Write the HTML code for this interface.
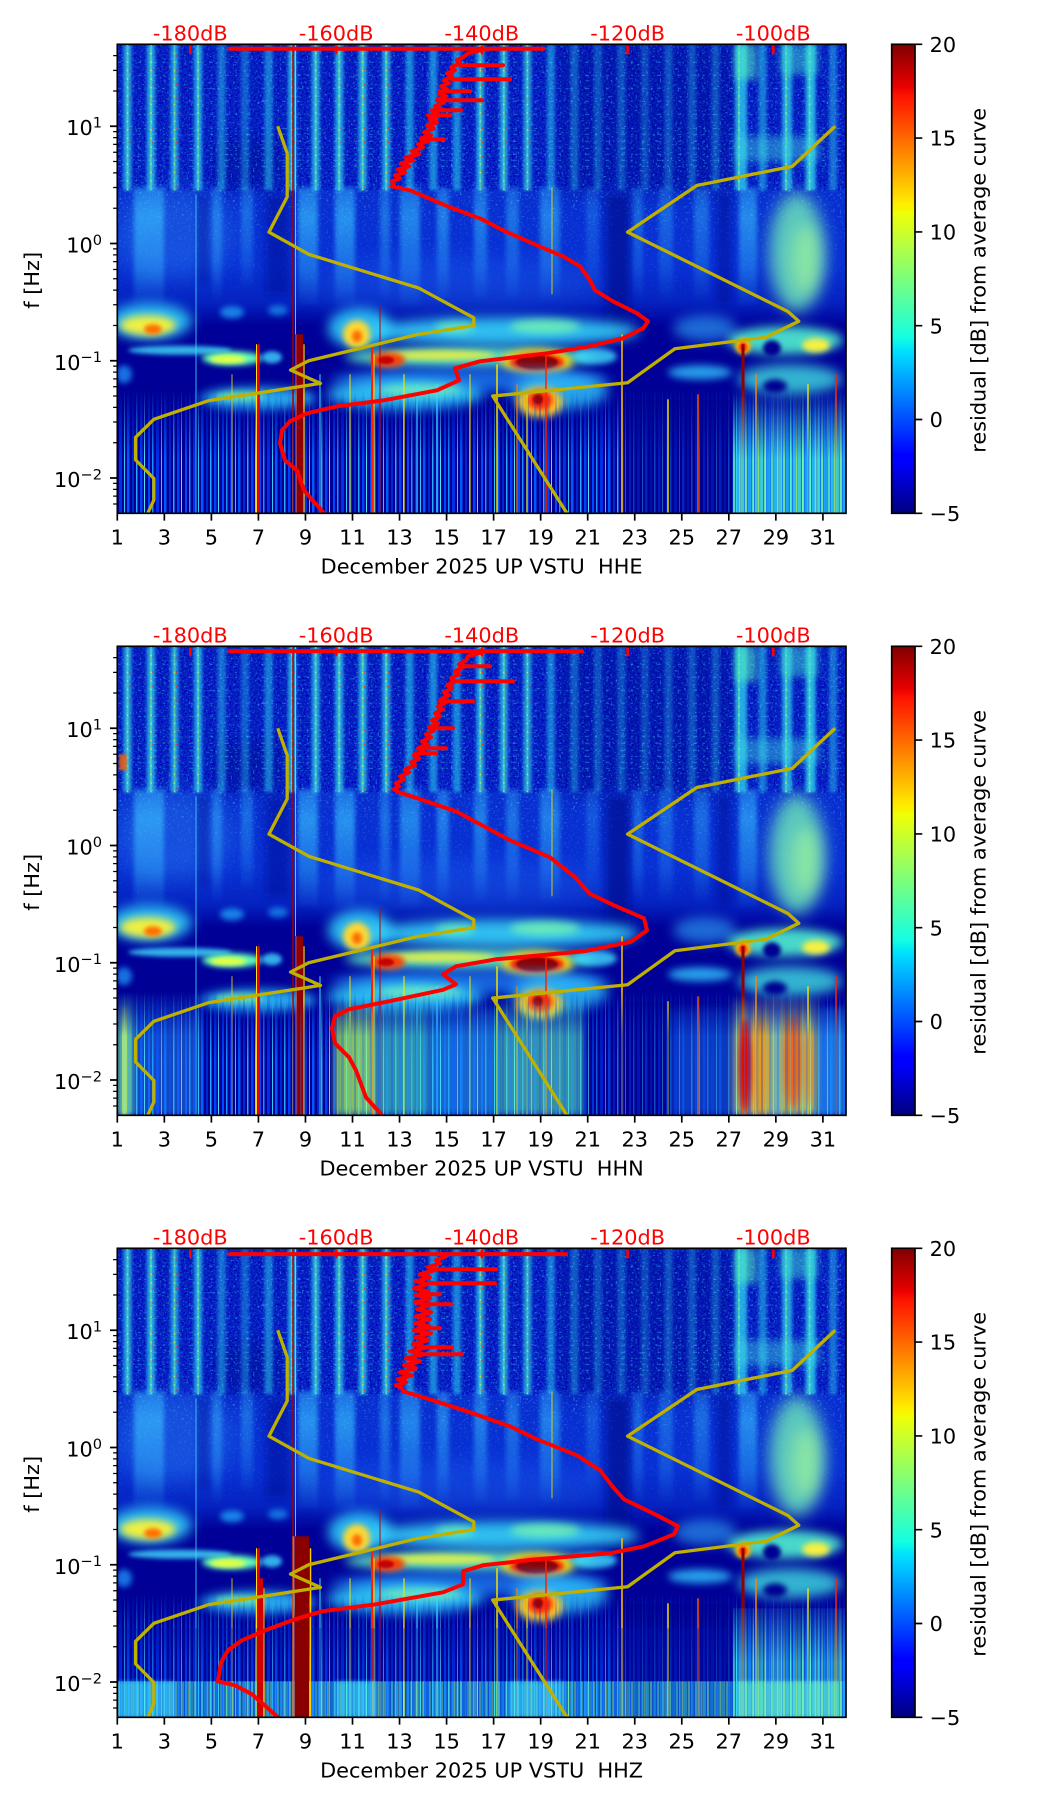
<!DOCTYPE html>
<html><head><meta charset="utf-8">
<style>
html,body{margin:0;padding:0;background:#fff;}
svg{display:block;}
text{font-family:"DejaVu Sans","Liberation Sans",sans-serif;font-size:20.83px;fill:#000;}
.r{fill:#ff0000;}
</style></head><body>
<svg width="1052" height="1806" viewBox="0 0 1052 1806" xmlns="http://www.w3.org/2000/svg">
<defs>
 <clipPath id="ax"><rect x="117.3" y="0" width="728.7" height="469"/></clipPath>
 <linearGradient id="jet" x1="0" y1="1" x2="0" y2="0">
  <stop offset="0" stop-color="#000080"/><stop offset="0.11" stop-color="#0000ff"/><stop offset="0.125" stop-color="#0000ff"/>
  <stop offset="0.34" stop-color="#00dbff"/><stop offset="0.35" stop-color="#00e5f7"/><stop offset="0.375" stop-color="#14ffe2"/>
  <stop offset="0.64" stop-color="#eeff08"/><stop offset="0.65" stop-color="#f7f500"/><stop offset="0.66" stop-color="#ffec00"/>
  <stop offset="0.89" stop-color="#ff1300"/><stop offset="0.91" stop-color="#e80000"/><stop offset="1" stop-color="#800000"/>
 </linearGradient>
 <linearGradient id="gbase" gradientUnits="userSpaceOnUse" x1="0" y1="0" x2="0" y2="469">
  <stop offset="0" stop-color="#0622c0"/><stop offset="0.29" stop-color="#0624c4"/>
  <stop offset="0.32" stop-color="#082ed0"/><stop offset="0.47" stop-color="#0830d4"/>
  <stop offset="0.55" stop-color="#0522c0"/><stop offset="0.60" stop-color="#000098"/><stop offset="1" stop-color="#000090"/>
 </linearGradient>
 <linearGradient id="plume" x1="0" y1="0" x2="0" y2="1">
  <stop offset="0" stop-color="#38c8ff" stop-opacity="0.55"/><stop offset="0.25" stop-color="#38c8ff" stop-opacity="0.85"/><stop offset="0.7" stop-color="#38c8ff" stop-opacity="0.5"/><stop offset="1" stop-color="#38c8ff" stop-opacity="0.05"/>
 </linearGradient>
 <filter id="b1" x="-50%" y="-50%" width="200%" height="200%"><feGaussianBlur stdDeviation="1"/></filter>
 <filter id="b15" x="-50%" y="-50%" width="200%" height="200%"><feGaussianBlur stdDeviation="1.5"/></filter>
 <filter id="b2" x="-50%" y="-50%" width="200%" height="200%"><feGaussianBlur stdDeviation="2"/></filter>
 <filter id="b3" x="-50%" y="-50%" width="200%" height="200%"><feGaussianBlur stdDeviation="3"/></filter>
 <filter id="b4" x="-50%" y="-50%" width="200%" height="200%"><feGaussianBlur stdDeviation="4"/></filter>
 <filter id="b5" x="-50%" y="-50%" width="200%" height="200%"><feGaussianBlur stdDeviation="5"/></filter>
 <filter id="b6" x="-50%" y="-50%" width="200%" height="200%"><feGaussianBlur stdDeviation="6"/></filter>
 <filter id="b8" x="-50%" y="-50%" width="200%" height="200%"><feGaussianBlur stdDeviation="8"/></filter>
 <filter id="b10" x="-50%" y="-50%" width="200%" height="200%"><feGaussianBlur stdDeviation="10"/></filter>
 <filter id="b12" x="-50%" y="-50%" width="200%" height="200%"><feGaussianBlur stdDeviation="12"/></filter>
 <filter id="spk" x="0" y="0" width="1" height="1">
  <feTurbulence type="fractalNoise" baseFrequency="0.45 0.5" numOctaves="2" seed="4"/>
  <feColorMatrix type="matrix" values="0 0 0 0 0.1  0 0 0 0 0.7  0 0 0 0 1  4 0 0 0 -2.35"/>
 </filter>
 <filter id="spk2" x="0" y="0" width="1" height="1">
  <feTurbulence type="fractalNoise" baseFrequency="0.5 0.45" numOctaves="2" seed="11"/>
  <feColorMatrix type="matrix" values="0 0 0 0 0  0 0 0 0 0  0 0 0 0 0.5  0 4 0 0 -1.9"/>
 </filter>
 <linearGradient id="spkG" gradientUnits="userSpaceOnUse" x1="0" y1="0" x2="0" y2="270">
  <stop offset="0" stop-color="#fff"/><stop offset="0.55" stop-color="#fff"/><stop offset="0.75" stop-color="#666"/><stop offset="1" stop-color="#000"/>
 </linearGradient>
 <mask id="spkM" maskUnits="userSpaceOnUse" x="100" y="0" width="760" height="280"><rect x="100" y="0" width="760" height="280" fill="url(#spkG)"/></mask>
 <pattern id="stk" patternUnits="userSpaceOnUse" x="0" y="0" width="37" height="10">
  <rect x="0" y="0" width="2" height="10" fill="#0048ff"/>
  <rect x="4" y="0" width="1.5" height="10" fill="#1890ff"/>
  <rect x="8" y="0" width="3" height="10" fill="#0030e8"/>
  <rect x="13" y="0" width="1" height="10" fill="#30c8ff"/>
  <rect x="16" y="0" width="2.5" height="10" fill="#0058ff"/>
  <rect x="21" y="0" width="2" height="10" fill="#0028d0"/>
  <rect x="25" y="0" width="1.5" height="10" fill="#2aa8ff"/>
  <rect x="29" y="0" width="2.5" height="10" fill="#0040f8"/>
  <rect x="33" y="0" width="1" height="10" fill="#50e0ff"/>
 </pattern>
 <pattern id="stkC" patternUnits="userSpaceOnUse" x="0" y="0" width="19" height="10">
  <rect x="0" y="0" width="19" height="10" fill="#1890ff"/>
  <rect x="0" y="0" width="3" height="10" fill="#40e8e0"/>
  <rect x="4" y="0" width="2" height="10" fill="#80ffa0"/>
  <rect x="7" y="0" width="3" height="10" fill="#20b8ff"/>
  <rect x="11" y="0" width="2" height="10" fill="#60f8c0"/>
  <rect x="14" y="0" width="3" height="10" fill="#30d0ff"/>
  <rect x="17" y="0" width="1.5" height="10" fill="#a0ff70"/>
 </pattern>
 <linearGradient id="fadeG" gradientUnits="userSpaceOnUse" x1="0" y1="345" x2="0" y2="415"><stop offset="0" stop-color="#000"/><stop offset="1" stop-color="#fff"/></linearGradient>
 <mask id="fadeM" maskUnits="userSpaceOnUse" x="100" y="300" width="760" height="180"><rect x="100" y="300" width="760" height="180" fill="url(#fadeG)"/></mask>
 <linearGradient id="fadeG2" gradientUnits="userSpaceOnUse" x1="0" y1="345" x2="0" y2="390"><stop offset="0" stop-color="#000"/><stop offset="1" stop-color="#fff"/></linearGradient>
 <mask id="fadeM2" maskUnits="userSpaceOnUse" x="100" y="300" width="760" height="180"><rect x="100" y="300" width="760" height="180" fill="url(#fadeG2)"/></mask>

 <g id="spec">
  <rect x="117" y="0" width="730" height="469" fill="url(#gbase)"/>
  <rect x="117" y="0" width="730" height="146" filter="url(#spk2)"/>
  <rect x="560" y="0" width="175" height="150" fill="#000c90" opacity="0.35" filter="url(#b8)"/>
  <rect x="215" y="95" width="70" height="50" fill="#000a90" opacity="0.4" filter="url(#b8)"/>
  <!-- day stripes -->
  <g fill="#2cd8f0" filter="url(#b15)">
   <rect x="123.5" y="0" width="8" height="146" opacity="0.7"/>
   <rect x="147" y="0" width="8" height="146" opacity="0.75"/>
   <rect x="170.5" y="0" width="8" height="146" opacity="0.65"/>
   <rect x="194.1" y="0" width="8" height="146" opacity="0.7"/>
   <rect x="217.6" y="0" width="8" height="146" opacity="0.45"/>
   <rect x="241.1" y="0" width="8" height="146" opacity="0.35"/>
   <rect x="264.6" y="0" width="8" height="146" opacity="0.5"/>
   <rect x="288.1" y="0" width="8" height="146" opacity="0.75"/>
   <rect x="311.7" y="0" width="8" height="146" opacity="0.7"/>
   <rect x="335.2" y="0" width="8" height="146" opacity="0.75"/>
   <rect x="358.7" y="0" width="8" height="146" opacity="0.75"/>
   <rect x="382.2" y="0" width="8" height="146" opacity="0.7"/>
   <rect x="405.7" y="0" width="8" height="146" opacity="0.55"/>
   <rect x="429.3" y="0" width="8" height="146" opacity="0.55"/>
   <rect x="452.8" y="0" width="8" height="146" opacity="0.55"/>
   <rect x="476.3" y="0" width="8" height="146" opacity="0.7"/>
   <rect x="499.8" y="0" width="8" height="146" opacity="0.7"/>
   <rect x="523.4" y="0" width="8" height="146" opacity="0.65"/>
   <rect x="546.9" y="0" width="8" height="146" opacity="0.5"/>
   <rect x="570.4" y="0" width="8" height="146" opacity="0.35"/>
   <rect x="593.9" y="0" width="8" height="146" opacity="0.3"/>
   <rect x="617.4" y="0" width="8" height="146" opacity="0.3"/>
   <rect x="641" y="0" width="8" height="146" opacity="0.25"/>
   <rect x="664.5" y="0" width="8" height="146" opacity="0.3"/>
   <rect x="688" y="0" width="8" height="146" opacity="0.3"/>
   <rect x="711.5" y="0" width="8" height="146" opacity="0.3"/>
   <rect x="735" y="0" width="12" height="146" opacity="0.75"/>
   <rect x="758.6" y="0" width="8" height="146" opacity="0.5"/>
   <rect x="782.1" y="0" width="10" height="146" opacity="0.7"/>
   <rect x="805.6" y="0" width="10" height="146" opacity="0.8"/>
   <rect x="829.1" y="0" width="8" height="146" opacity="0.45"/>
  </g>
  <path d="M127.5,0V146M151,0V146M174.5,0V146M198.1,0V146M292.1,0V146M315.7,0V146M339.2,0V146M362.7,0V146M386.2,0V146M480.3,0V146M503.8,0V146M527.4,0V146M739,0V146M786.1,0V146M809.6,0V146" stroke="#80ff90" stroke-width="2" opacity="0.35"/>
  <path d="M127.5,0V146M151,0V146M174.5,0V146M198.1,0V146M292.1,0V146M315.7,0V146M339.2,0V146M362.7,0V146M386.2,0V146M480.3,0V146M503.8,0V146M527.4,0V146M739,0V146M786.1,0V146M809.6,0V146" stroke="#e8f040" stroke-width="1.4" stroke-dasharray="1.5 7" opacity="0.75"/>
  <path d="M129.5,0V146M153,0V146M176.5,0V146M294.1,0V146M341.2,0V146M364.7,0V146M388.2,0V146M482.3,0V146M505.8,0V146M529.4,0V146" stroke="#ff2a00" stroke-width="1.4" stroke-dasharray="1.5 13" stroke-dashoffset="4" opacity="0.8"/>
  <path d="M117,18H846M117,31H846M117,44H846M117,57H846M117,70H846M117,84H846M117,90H846M117,97H846M117,104H846M117,110H846M117,116H846M117,122H846" stroke="#38d8ff" stroke-width="1.2" stroke-dasharray="4 6 2 9 3 12" opacity="0.35"/>
  <!-- plumes (3 Hz .. 0.3 Hz) -->
  <g fill="url(#plume)" filter="url(#b2)">
   <rect x="134" y="143" width="30" height="118" opacity="0.75"/>
   <rect x="212" y="143" width="10" height="112" opacity="0.5"/>
   <rect x="241" y="143" width="12" height="100" opacity="0.45"/>
   <rect x="298" y="143" width="20" height="118" opacity="0.75"/>
   <rect x="335" y="143" width="20" height="118" opacity="0.75"/>
   <rect x="380" y="143" width="10" height="112" opacity="0.5"/>
   <rect x="400" y="143" width="20" height="118" opacity="0.65"/>
   <rect x="437" y="143" width="12" height="112" opacity="0.6"/>
   <rect x="474" y="143" width="13" height="112" opacity="0.6"/>
   <rect x="506" y="143" width="13" height="112" opacity="0.5"/>
   <rect x="540" y="143" width="20" height="112" opacity="0.6"/>
   <rect x="586" y="143" width="13" height="100" opacity="0.3"/>
   <rect x="632" y="143" width="11" height="112" opacity="0.4"/>
   <rect x="659" y="143" width="14" height="112" opacity="0.4"/>
   <rect x="694" y="143" width="15" height="112" opacity="0.45"/>
   <rect x="739" y="143" width="18" height="118" opacity="0.7"/>
  </g>
  <ellipse cx="797" cy="208" rx="28" ry="60" fill="#70ecb8" opacity="0.8" filter="url(#b8)"/>
  <ellipse cx="806" cy="215" rx="14" ry="35" fill="#b0ff90" opacity="0.55" filter="url(#b8)"/>
  <rect x="117" y="0" width="730" height="270" filter="url(#spk)" mask="url(#spkM)" opacity="0.5"/>
  <!-- hazes / dark columns -->
  <ellipse cx="175" cy="190" rx="60" ry="45" fill="#40b0ff" opacity="0.25" filter="url(#b12)"/>
  <ellipse cx="460" cy="240" rx="150" ry="25" fill="#2a80ff" opacity="0.25" filter="url(#b12)"/>
  <rect x="735" y="0" width="22" height="35" fill="#50f0c0" opacity="0.6" filter="url(#b4)"/>
  <rect x="780" y="0" width="38" height="30" fill="#40e0d0" opacity="0.5" filter="url(#b4)"/>
  <rect x="735" y="92" width="85" height="25" fill="#40d8e0" opacity="0.45" filter="url(#b4)"/>
  <rect x="606" y="150" width="24" height="150" fill="#000a90" opacity="0.7" filter="url(#b4)"/>
  <rect x="266" y="150" width="24" height="100" fill="#000c98" opacity="0.55" filter="url(#b4)"/>
  <rect x="197" y="150" width="12" height="90" fill="#000c98" opacity="0.4" filter="url(#b3)"/>
  <rect x="717" y="150" width="14" height="110" fill="#000c98" opacity="0.5" filter="url(#b3)"/>
  <!-- 0.2 Hz band -->
  <ellipse cx="150" cy="277" rx="42" ry="18" fill="#30d8ff" opacity="0.85" filter="url(#b6)"/>
  <ellipse cx="148" cy="281" rx="28" ry="10" fill="#f0f040" filter="url(#b4)"/>
  <ellipse cx="153" cy="285" rx="9" ry="5" fill="#ff7000" filter="url(#b2)"/>
  <ellipse cx="232" cy="268" rx="12" ry="6" fill="#20b0ff" opacity="0.7" filter="url(#b3)"/>
  <ellipse cx="278" cy="266" rx="10" ry="5" fill="#20b0ff" opacity="0.6" filter="url(#b3)"/>
  <ellipse cx="360" cy="284" rx="32" ry="20" fill="#30d8ff" opacity="0.85" filter="url(#b6)"/>
  <ellipse cx="357" cy="290" rx="14" ry="14" fill="#ffd830" filter="url(#b3)"/>
  <ellipse cx="357" cy="292" rx="5" ry="6" fill="#ff6a00" filter="url(#b2)"/>
  <ellipse cx="505" cy="287" rx="135" ry="14" fill="#38e0ff" opacity="0.85" filter="url(#b6)"/>
  <ellipse cx="545" cy="282" rx="35" ry="7" fill="#80ffa8" opacity="0.7" filter="url(#b4)"/>
  <ellipse cx="455" cy="283" rx="20" ry="6" fill="#80ffa8" opacity="0.6" filter="url(#b4)"/>
  <ellipse cx="705" cy="284" rx="32" ry="13" fill="#30b0ff" opacity="0.6" filter="url(#b6)"/>
  <ellipse cx="785" cy="296" rx="58" ry="14" fill="#50f0d0" opacity="0.9" filter="url(#b5)"/>
  <ellipse cx="816" cy="301" rx="14" ry="7" fill="#f8f040" filter="url(#b3)"/>
  <ellipse cx="772" cy="304" rx="9" ry="8" fill="#000090" filter="url(#b2)"/>
  <ellipse cx="743" cy="302" rx="8" ry="8" fill="#ffb000" filter="url(#b2)"/>
  <ellipse cx="743" cy="303" rx="4" ry="5" fill="#ff3000" filter="url(#b1)"/>
  <!-- 0.1 Hz band -->
  <ellipse cx="180" cy="306" rx="52" ry="4.5" fill="#40e0ff" opacity="0.8" filter="url(#b2)"/>
  <ellipse cx="232" cy="314" rx="30" ry="7" fill="#60ffb8" filter="url(#b3)"/>
  <ellipse cx="228" cy="315" rx="18" ry="4" fill="#e8ff40" filter="url(#b2)"/>
  <ellipse cx="272" cy="313" rx="10" ry="6" fill="#40d8ff" opacity="0.8" filter="url(#b2)"/>
  <ellipse cx="470" cy="313" rx="125" ry="10" fill="#60f8c0" opacity="0.9" filter="url(#b5)"/>
  <ellipse cx="440" cy="311" rx="55" ry="5" fill="#f0f040" opacity="0.85" filter="url(#b3)"/>
  <ellipse cx="388" cy="316" rx="17" ry="8" fill="#ff4000" filter="url(#b3)"/>
  <ellipse cx="386" cy="316" rx="8" ry="4" fill="#c80000" filter="url(#b1)"/>
  <ellipse cx="537" cy="318" rx="36" ry="13" fill="#ffd000" filter="url(#b4)"/>
  <ellipse cx="537" cy="318" rx="27" ry="9" fill="#ff2000" filter="url(#b2)"/>
  <ellipse cx="537" cy="318" rx="21" ry="7" fill="#8c0000" filter="url(#b1)"/>
  <ellipse cx="595" cy="312" rx="22" ry="8" fill="#40e0ff" opacity="0.8" filter="url(#b3)"/>
  <!-- 0.07 Hz -->
  <ellipse cx="124" cy="330" rx="8" ry="9" fill="#20a0ff" opacity="0.7" filter="url(#b3)"/>
  <ellipse cx="470" cy="336" rx="140" ry="12" fill="#2090ff" opacity="0.7" filter="url(#b6)"/>
  <ellipse cx="700" cy="328" rx="32" ry="7" fill="#30c8ff" opacity="0.8" filter="url(#b4)"/>
  <ellipse cx="790" cy="335" rx="52" ry="15" fill="#40e0e0" opacity="0.8" filter="url(#b6)"/>
  <ellipse cx="775" cy="342" rx="12" ry="7" fill="#000090" filter="url(#b3)"/>
  <!-- 0.05 Hz -->
  <ellipse cx="258" cy="354" rx="58" ry="11" fill="#30d0ff" opacity="0.8" filter="url(#b5)"/>
  <ellipse cx="240" cy="352" rx="25" ry="5" fill="#90ff80" opacity="0.6" filter="url(#b3)"/>
  <ellipse cx="405" cy="350" rx="78" ry="15" fill="#30d8ff" opacity="0.85" filter="url(#b6)"/>
  <ellipse cx="420" cy="346" rx="42" ry="6" fill="#90ffa0" opacity="0.6" filter="url(#b4)"/>
  <ellipse cx="560" cy="347" rx="48" ry="18" fill="#30d0ff" opacity="0.75" filter="url(#b6)"/>
  <ellipse cx="540" cy="358" rx="23" ry="15" fill="#ffd020" filter="url(#b4)"/>
  <ellipse cx="540" cy="356" rx="13" ry="10" fill="#ff2800" filter="url(#b3)"/>
  <ellipse cx="538" cy="355" rx="5" ry="5" fill="#a00000" filter="url(#b1)"/>
  <!-- lower streaks -->
  <rect x="117" y="340" width="730" height="129" fill="url(#stk)" mask="url(#fadeM)"/>
  <rect x="625" y="355" width="108" height="114" fill="#000090" opacity="0.6"/>
  <!-- transients -->
  <line x1="196" y1="150" x2="196" y2="469" stroke="#40e0ff" stroke-width="1" opacity="0.8"/>
  <line x1="232" y1="330" x2="232" y2="469" stroke="#f0e000" stroke-width="1" opacity="0.8"/>
  <line x1="256.5" y1="300" x2="256.5" y2="469" stroke="#ffe000" stroke-width="1"/>
  <line x1="258.5" y1="300" x2="258.5" y2="469" stroke="#e00000" stroke-width="2.5"/>
  <line x1="293" y1="0" x2="293" y2="469" stroke="#a00000" stroke-width="1.5"/>
  <line x1="295.5" y1="0" x2="295.5" y2="290" stroke="#f0e000" stroke-width="1" opacity="0.8"/>
  <line x1="296" y1="290" x2="296" y2="469" stroke="#ff4000" stroke-width="1.2"/>
  <rect x="297" y="290" width="6" height="179" fill="#900000"/>
  <line x1="304" y1="300" x2="304" y2="469" stroke="#ffd000" stroke-width="1.2"/>
  <line x1="320" y1="330" x2="320" y2="469" stroke="#40e0ff" stroke-width="1"/>
  <line x1="350" y1="330" x2="350" y2="469" stroke="#f0e000" stroke-width="1"/>
  <line x1="372" y1="300" x2="372" y2="469" stroke="#ff2000" stroke-width="2"/>
  <line x1="374" y1="310" x2="374" y2="469" stroke="#ffe000" stroke-width="1"/>
  <line x1="380" y1="262" x2="380" y2="469" stroke="#c00000" stroke-width="1"/>
  <line x1="404" y1="330" x2="404" y2="469" stroke="#f0e000" stroke-width="1.2"/>
  <line x1="417" y1="340" x2="417" y2="469" stroke="#40e0ff" stroke-width="1"/>
  <line x1="437" y1="340" x2="437" y2="469" stroke="#40e0ff" stroke-width="1.2"/>
  <line x1="470" y1="330" x2="470" y2="469" stroke="#f0e000" stroke-width="1"/>
  <line x1="497" y1="320" x2="497" y2="469" stroke="#f0e000" stroke-width="1.5"/>
  <line x1="517" y1="340" x2="517" y2="469" stroke="#ff8000" stroke-width="1.2"/>
  <line x1="527" y1="350" x2="527" y2="469" stroke="#f0e000" stroke-width="1.2"/>
  <line x1="546" y1="310" x2="546" y2="469" stroke="#ff2000" stroke-width="1.5"/>
  <line x1="552" y1="143" x2="552" y2="250" stroke="#f0e000" stroke-width="1.2" opacity="0.7"/>
  <line x1="622" y1="290" x2="622" y2="469" stroke="#ffc000" stroke-width="1.5"/>
  <line x1="668" y1="355" x2="668" y2="469" stroke="#f0e000" stroke-width="1.5"/>
  <line x1="698" y1="350" x2="698" y2="469" stroke="#ff5000" stroke-width="1.5"/>
  <line x1="743" y1="300" x2="743" y2="469" stroke="#900000" stroke-width="3"/>
  <line x1="756" y1="330" x2="756" y2="469" stroke="#ff8000" stroke-width="1.5"/>
  <line x1="808" y1="340" x2="808" y2="469" stroke="#f0e000" stroke-width="1.5"/>
  <line x1="836" y1="330" x2="836" y2="469" stroke="#ff2000" stroke-width="1.5"/>
 </g>

 <g id="nm" fill="none" stroke="#c0b000" stroke-width="3.3" stroke-linejoin="round">
  <path d="M277.75,81.96L287.2,108.98L287.2,152.55L269,187.85L309.1,210.16L418.8,243.78L473.8,273.49L473.8,281.16L416.2,290.45L308.7,316.46L290.5,325.74L320.5,339.1L208.5,356.37L153.9,375.05L135.6,393.05L135.6,415.55L153.9,434.21L153.9,455.69L147.7,469"/>
  <path d="M835.2,81.96L792.2,122.1L696.8,141.18L627.55,187.85L787.9,267.19L798.8,276.92L766,292.93L674.9,304.45L627.55,338.44L492.7,351.75L567,469"/>
 </g>

 <g id="axdeco">
  <path d="M190.3,1.5V10M336.1,1.5V10M481.8,1.5V10M627.6,1.5V10M773.3,1.5V10" stroke="#ff0000" stroke-width="2.6"/>
  <rect x="117.3" y="0" width="728.7" height="469" fill="none" stroke="#000" stroke-width="1.67"/>
  <path d="M110,81.96H117.3M110,199.21H117.3M110,316.46H117.3M110,433.71H117.3" stroke="#000" stroke-width="1.67"/>
  <path d="M113.1,11.36H117.3M113.1,26.02H117.3M113.1,46.67H117.3M113.1,87.32H117.3M113.1,93.32H117.3M113.1,100.12H117.3M113.1,107.97H117.3M113.1,117.25H117.3M113.1,128.61H117.3M113.1,143.26H117.3M113.1,163.91H117.3M113.1,204.57H117.3M113.1,210.57H117.3M113.1,217.37H117.3M113.1,225.22H117.3M113.1,234.5H117.3M113.1,245.86H117.3M113.1,260.51H117.3M113.1,281.16H117.3M113.1,321.82H117.3M113.1,327.82H117.3M113.1,334.62H117.3M113.1,342.47H117.3M113.1,351.75H117.3M113.1,363.11H117.3M113.1,377.76H117.3M113.1,398.41H117.3M113.1,439.07H117.3M113.1,445.07H117.3M113.1,451.87H117.3M113.1,459.72H117.3" stroke="#000" stroke-width="1.25"/>
  <path d="M117.3,469V476.3M164.34,469V476.3M211.38,469V476.3M258.42,469V476.3M305.46,469V476.3M352.5,469V476.3M399.54,469V476.3M446.58,469V476.3M493.62,469V476.3M540.66,469V476.3M587.7,469V476.3M634.74,469V476.3M681.78,469V476.3M728.82,469V476.3M775.86,469V476.3M822.9,469V476.3" stroke="#000" stroke-width="1.67"/>
  <rect x="891.7" y="0" width="23.3" height="469" fill="url(#jet)" stroke="#000" stroke-width="1.67"/>
  <path d="M915,0H922.3M915,93.8H922.3M915,187.6H922.3M915,281.4H922.3M915,375.2H922.3M915,469H922.3" stroke="#000" stroke-width="1.67"/>
 </g>
</defs>

<!-- ================= PANEL 1 (HHE) ================= -->
<g transform="translate(0,44.3)">
 <g clip-path="url(#ax)">
  <use href="#spec"/>
  <rect x="733" y="345" width="113" height="124" fill="url(#stkC)" mask="url(#fadeM)" opacity="0.85"/>
  <use href="#nm"/>
  <g fill="none" stroke="#ff0000" stroke-width="4" stroke-linejoin="round" stroke-linecap="round">
   <path d="M230,4.5H543"/>
   <path d="M460,21H503M452,35H510M440,47H470M437,56H482M432,66H461M428,71H450M421,95H444"/>
   <path d="M484,5L468,9L463,13L457,16L460,19L451,23L455,26L447,29L452,32L444,36L449,39L441,42L447,45L439,49L446,52L438,55L444,58L435,62L442,65L433,68L440,71L430,75L437,78L427,81L434,84L424,88L431,91L421,94L428,97L418,100L423,103L412,107L419,110L406,113L413,116L401,119L409,122L398,125L405,128L395,131L400,134L392,137L394,140L392,142L410,146L450,163L482,175L503,186L537,201L563,212L580,222L590,236L595,246L613,257L637,269L648,277L643,284L623,294L590,302L547,309L480,317L455,324L459,336L437,346L384,356L337,362L307,369L290,377L282,386L280,399L285,416L297,426L304,446L324,469"/>
  </g>
 </g>
 <use href="#axdeco"/>
 <text class="r" x="190.3" y="-3.6" text-anchor="middle">-180dB</text>
 <text class="r" x="336.1" y="-3.6" text-anchor="middle">-160dB</text>
 <text class="r" x="481.8" y="-3.6" text-anchor="middle">-140dB</text>
 <text class="r" x="627.6" y="-3.6" text-anchor="middle">-120dB</text>
 <text class="r" x="773.3" y="-3.6" text-anchor="middle">-100dB</text>
 <text x="102" y="90.9" text-anchor="end">10<tspan dy="-7.7" font-size="14.6">1</tspan></text>
 <text x="102" y="208.2" text-anchor="end">10<tspan dy="-7.7" font-size="14.6">0</tspan></text>
 <text x="102" y="325.5" text-anchor="end">10<tspan dy="-7.7" font-size="14.6">−1</tspan></text>
 <text x="102" y="442.7" text-anchor="end">10<tspan dy="-7.7" font-size="14.6">−2</tspan></text>
 <g text-anchor="middle">
  <text x="117.3" y="500">1</text><text x="164.34" y="500">3</text><text x="211.38" y="500">5</text><text x="258.42" y="500">7</text>
  <text x="305.46" y="500">9</text><text x="352.5" y="500">11</text><text x="399.54" y="500">13</text><text x="446.58" y="500">15</text>
  <text x="493.62" y="500">17</text><text x="540.66" y="500">19</text><text x="587.7" y="500">21</text><text x="634.74" y="500">23</text>
  <text x="681.78" y="500">25</text><text x="728.82" y="500">27</text><text x="775.86" y="500">29</text><text x="822.9" y="500">31</text>
 </g>
 <text x="481.6" y="529" text-anchor="middle" xml:space="preserve" style="white-space:pre">December 2025 UP VSTU  HHE</text>
 <text transform="translate(39,236) rotate(-90)" text-anchor="middle">f [Hz]</text>
 <text x="929.6" y="7.6">20</text><text x="929.6" y="101.4">15</text><text x="929.6" y="195.2">10</text>
 <text x="929.6" y="289">5</text><text x="929.6" y="382.8">0</text><text x="929.6" y="476.6">−5</text>
 <text transform="translate(985.5,236) rotate(-90)" text-anchor="middle">residual [dB] from average curve</text>
</g>

<!-- ================= PANEL 2 (HHN) ================= -->
<g transform="translate(0,646.3)">
 <g clip-path="url(#ax)">
  <use href="#spec"/>
  <rect x="119" y="108" width="8" height="16" fill="#ff6000" opacity="0.8" filter="url(#b1)"/>
  <g mask="url(#fadeM2)">
   <rect x="117" y="345" width="17" height="124" fill="#70f0a0" opacity="0.85" filter="url(#b3)"/>
   <rect x="122" y="360" width="5" height="109" fill="#f0f040" opacity="0.8" filter="url(#b2)"/>
   <rect x="134" y="345" width="67" height="124" fill="#30b0ff" opacity="0.4" filter="url(#b3)"/>
   <rect x="335" y="360" width="40" height="109" fill="#b0ff50" opacity="0.75" filter="url(#b4)"/>
   <rect x="376" y="360" width="54" height="109" fill="#50f0c0" opacity="0.6" filter="url(#b4)"/>
   <rect x="430" y="360" width="67" height="109" fill="#30d0ff" opacity="0.5" filter="url(#b4)"/>
   <rect x="497" y="355" width="87" height="114" fill="#60f0b0" opacity="0.6" filter="url(#b4)"/>
   <rect x="584" y="345" width="87" height="124" fill="#000090" opacity="0.5"/>
   <rect x="671" y="360" width="60" height="109" fill="#2090ff" opacity="0.4" filter="url(#b4)"/>
   <rect x="733" y="350" width="85" height="119" fill="#e8f050" opacity="0.75" filter="url(#b4)"/>
   <ellipse cx="760" cy="420" rx="9" ry="50" fill="#ff9000" opacity="0.7" filter="url(#b4)"/>
   <ellipse cx="745" cy="420" rx="6" ry="48" fill="#e00000" filter="url(#b3)"/>
   <ellipse cx="793" cy="415" rx="9" ry="48" fill="#ff5000" opacity="0.8" filter="url(#b4)"/>
   <ellipse cx="810" cy="420" rx="5" ry="40" fill="#ff8000" opacity="0.6" filter="url(#b3)"/>
   <rect x="772" y="360" width="8" height="109" fill="#30b0ff" opacity="0.5" filter="url(#b2)"/>
   <rect x="818" y="360" width="28" height="109" fill="#30c0ff" opacity="0.6" filter="url(#b3)"/>
   <rect x="117" y="345" width="730" height="124" fill="url(#stk)" opacity="0.3"/>
  </g>
  <use href="#nm"/>
  <g fill="none" stroke="#ff0000" stroke-width="4" stroke-linejoin="round" stroke-linecap="round">
   <path d="M230,4.8H582"/>
   <path d="M460,20H490M452,35H513M440,55H473M431,82H453M420,102H446M416,107H436"/>
   <path d="M482,6L468,10L466,14L459,18L463,21L455,25L459,28L451,32L455,35L447,39L452,42L444,46L449,49L441,53L446,56L438,60L443,63L435,67L440,70L432,74L438,77L429,81L434,84L426,88L431,91L422,95L427,98L418,102L423,105L414,109L419,112L411,116L415,119L405,123L409,126L400,130L404,133L396,137L399,140L394,143L399,146L416,151.5L456,165L480,178L510,194L550,211L574,230L590,247.5L614,259L644,272L647,284L631,295.5L584,305L496,313L456,320L443,328L456,338L443,343.5L389,355L349,363L335,370L332,382L335,397L349,411L356,424L366,451L382,469"/>
  </g>
 </g>
 <use href="#axdeco"/>
 <text class="r" x="190.3" y="-3.6" text-anchor="middle">-180dB</text>
 <text class="r" x="336.1" y="-3.6" text-anchor="middle">-160dB</text>
 <text class="r" x="481.8" y="-3.6" text-anchor="middle">-140dB</text>
 <text class="r" x="627.6" y="-3.6" text-anchor="middle">-120dB</text>
 <text class="r" x="773.3" y="-3.6" text-anchor="middle">-100dB</text>
 <text x="102" y="90.9" text-anchor="end">10<tspan dy="-7.7" font-size="14.6">1</tspan></text>
 <text x="102" y="208.2" text-anchor="end">10<tspan dy="-7.7" font-size="14.6">0</tspan></text>
 <text x="102" y="325.5" text-anchor="end">10<tspan dy="-7.7" font-size="14.6">−1</tspan></text>
 <text x="102" y="442.7" text-anchor="end">10<tspan dy="-7.7" font-size="14.6">−2</tspan></text>
 <g text-anchor="middle">
  <text x="117.3" y="500">1</text><text x="164.34" y="500">3</text><text x="211.38" y="500">5</text><text x="258.42" y="500">7</text>
  <text x="305.46" y="500">9</text><text x="352.5" y="500">11</text><text x="399.54" y="500">13</text><text x="446.58" y="500">15</text>
  <text x="493.62" y="500">17</text><text x="540.66" y="500">19</text><text x="587.7" y="500">21</text><text x="634.74" y="500">23</text>
  <text x="681.78" y="500">25</text><text x="728.82" y="500">27</text><text x="775.86" y="500">29</text><text x="822.9" y="500">31</text>
 </g>
 <text x="481.6" y="529" text-anchor="middle" xml:space="preserve" style="white-space:pre">December 2025 UP VSTU  HHN</text>
 <text transform="translate(39,236) rotate(-90)" text-anchor="middle">f [Hz]</text>
 <text x="929.6" y="7.6">20</text><text x="929.6" y="101.4">15</text><text x="929.6" y="195.2">10</text>
 <text x="929.6" y="289">5</text><text x="929.6" y="382.8">0</text><text x="929.6" y="476.6">−5</text>
 <text transform="translate(985.5,236) rotate(-90)" text-anchor="middle">residual [dB] from average curve</text>
</g>

<!-- ================= PANEL 3 (HHZ) ================= -->
<g transform="translate(0,1248.3)">
 <g clip-path="url(#ax)">
  <use href="#spec"/>
  <rect x="117" y="380" width="616" height="53" fill="#0010a8" opacity="0.35"/>
  <rect x="117" y="433" width="730" height="36" fill="url(#stkC)" opacity="0.55"/>
  <rect x="117" y="433" width="58" height="36" fill="#40e0ff" opacity="0.5" filter="url(#b2)"/>
  <rect x="335" y="433" width="41" height="36" fill="#40e0ff" opacity="0.5" filter="url(#b2)"/>
  <rect x="510" y="433" width="54" height="36" fill="#40e0ff" opacity="0.5" filter="url(#b2)"/>
  <rect x="733" y="360" width="113" height="109" fill="url(#stkC)" opacity="0.6" mask="url(#fadeM)"/>
  <rect x="738" y="433" width="101" height="36" fill="#70f0c0" opacity="0.5" filter="url(#b2)"/>
  <line x1="293.5" y1="288" x2="293.5" y2="469" stroke="#ff6000" stroke-width="2"/>
  <rect x="295" y="288" width="14" height="181" fill="#8a0000"/>
  <line x1="310.5" y1="300" x2="310.5" y2="469" stroke="#ffd000" stroke-width="1.5"/>
  <rect x="257" y="330" width="6" height="139" fill="#d00000"/>
  <line x1="264" y1="340" x2="264" y2="469" stroke="#ffb000" stroke-width="1"/>
  <use href="#nm"/>
  <g fill="none" stroke="#ff0000" stroke-width="4" stroke-linejoin="round" stroke-linecap="round">
   <path d="M230,5.8H566"/>
   <path d="M436,21H496M430,35H495M420,46H440M424,56H451M418,80H440M420,99H452M418,106H462"/>
   <path d="M446,8L436,12L440,15L428,19L434,22L420,26L430,29L416,33L427,36L414,40L428,43L416,47L430,50L415,54L429,57L417,61L431,64L416,68L430,71L415,75L429,78L414,82L431,85L415,89L428,92L413,96L427,99L410,103L424,106L406,110L420,113L404,117L416,120L400,124L412,127L398,131L406,134L396,137L402,140L403,143L436,153L470,164L510,178L537,191L577,207L600,222L614,240L624,251L657,267L678,278L674,286L644,298L610,305L537,311L483,317L463,323L463,336L443,344L376,356L322,363L295,371L268,381L242,392L228,402L221,414L218,433L235,437L252,446L278,469"/>
  </g>
 </g>
 <use href="#axdeco"/>
 <text class="r" x="190.3" y="-3.6" text-anchor="middle">-180dB</text>
 <text class="r" x="336.1" y="-3.6" text-anchor="middle">-160dB</text>
 <text class="r" x="481.8" y="-3.6" text-anchor="middle">-140dB</text>
 <text class="r" x="627.6" y="-3.6" text-anchor="middle">-120dB</text>
 <text class="r" x="773.3" y="-3.6" text-anchor="middle">-100dB</text>
 <text x="102" y="90.9" text-anchor="end">10<tspan dy="-7.7" font-size="14.6">1</tspan></text>
 <text x="102" y="208.2" text-anchor="end">10<tspan dy="-7.7" font-size="14.6">0</tspan></text>
 <text x="102" y="325.5" text-anchor="end">10<tspan dy="-7.7" font-size="14.6">−1</tspan></text>
 <text x="102" y="442.7" text-anchor="end">10<tspan dy="-7.7" font-size="14.6">−2</tspan></text>
 <g text-anchor="middle">
  <text x="117.3" y="500">1</text><text x="164.34" y="500">3</text><text x="211.38" y="500">5</text><text x="258.42" y="500">7</text>
  <text x="305.46" y="500">9</text><text x="352.5" y="500">11</text><text x="399.54" y="500">13</text><text x="446.58" y="500">15</text>
  <text x="493.62" y="500">17</text><text x="540.66" y="500">19</text><text x="587.7" y="500">21</text><text x="634.74" y="500">23</text>
  <text x="681.78" y="500">25</text><text x="728.82" y="500">27</text><text x="775.86" y="500">29</text><text x="822.9" y="500">31</text>
 </g>
 <text x="481.6" y="529" text-anchor="middle" xml:space="preserve" style="white-space:pre">December 2025 UP VSTU  HHZ</text>
 <text transform="translate(39,236) rotate(-90)" text-anchor="middle">f [Hz]</text>
 <text x="929.6" y="7.6">20</text><text x="929.6" y="101.4">15</text><text x="929.6" y="195.2">10</text>
 <text x="929.6" y="289">5</text><text x="929.6" y="382.8">0</text><text x="929.6" y="476.6">−5</text>
 <text transform="translate(985.5,236) rotate(-90)" text-anchor="middle">residual [dB] from average curve</text>
</g>
</svg>
</body></html>
